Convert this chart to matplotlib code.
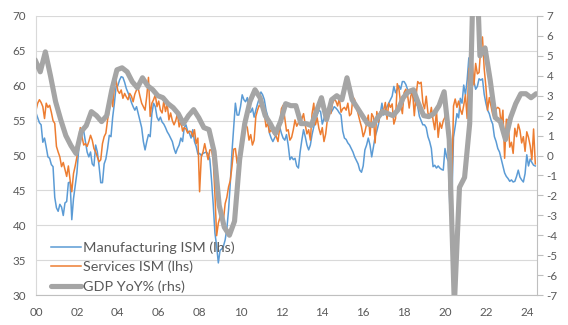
import numpy as np
import matplotlib.pyplot as plt

plt.rcParams['font.family'] = ['Lato', 'DejaVu Sans']
plt.rcParams['axes.unicode_minus'] = False

# monthly ISM readings, Jan 2000 - Jun 2024
manufacturing_ism = [
    56.1, 55.4, 54.7, 54.4, 51.9, 52.5, 51.2, 49.8, 49.6, 48.7, 48.4, 44.0,  # 2000
    42.5, 42.0, 43.0, 42.6, 41.4, 43.2, 43.4, 46.1, 46.2, 40.8, 43.8, 45.6,  # 2001
    47.5, 50.7, 53.0, 53.2, 53.5, 52.0, 50.5, 49.8, 50.5, 48.8, 48.5, 51.5,  # 2002
    50.5, 48.5, 46.1, 46.1, 48.8, 49.5, 51.0, 52.9, 52.7, 55.5, 57.5, 59.9,  # 2003
    60.0, 60.8, 61.3, 61.2, 60.5, 59.6, 59.0, 58.4, 57.6, 57.0, 56.5, 57.0,  # 2004
    56.0, 55.0, 54.0, 52.0, 50.8, 52.0, 53.0, 52.7, 56.0, 57.5, 57.0, 55.5,  # 2005
    55.0, 55.5, 54.8, 54.5, 54.0, 53.4, 53.0, 52.5, 52.0, 51.0, 50.3, 51.0,  # 2006
    51.5, 52.5, 52.0, 54.0, 54.4, 53.5, 53.2, 52.5, 53.7, 52.0, 51.3, 50.2,  # 2007
    50.3, 50.0, 50.3, 50.4, 50.5, 50.2, 49.5, 46.5, 43.0, 38.9, 37.0, 34.6,  # 2008
    36.4, 36.6, 37.0, 37.9, 39.5, 42.2, 46.0, 50.5, 54.0, 57.5, 55.8, 55.8,  # 2009
    57.0, 58.7, 58.0, 57.7, 58.3, 56.5, 56.2, 56.8, 55.5, 56.5, 57.4, 58.2,  # 2010
    59.1, 58.7, 58.0, 56.5, 55.6, 53.2, 52.5, 52.0, 52.5, 53.0, 53.5, 54.1,  # 2011
    53.2, 52.5, 52.2, 53.0, 51.5, 49.4, 49.8, 49.4, 49.6, 48.5, 48.2, 50.5,  # 2012
    52.2, 53.7, 52.7, 51.5, 50.8, 51.5, 53.0, 54.1, 55.0, 55.8, 56.5, 56.3,  # 2013
    54.5, 55.3, 56.1, 55.8, 56.0, 56.1, 56.5, 57.0, 56.8, 56.5, 56.1, 55.8,  # 2014
    53.5, 52.5, 52.3, 51.8, 51.5, 51.0, 50.5, 49.8, 49.3, 48.8, 47.9, 47.6,  # 2015
    48.5, 50.8, 51.5, 52.5, 51.5, 49.8, 51.2, 52.7, 53.5, 54.5, 56.0, 57.5,  # 2016
    55.8, 56.5, 57.0, 57.5, 58.0, 58.5, 59.9, 59.0, 59.5, 60.0, 59.5, 60.6,  # 2017
    60.6, 60.2, 59.5, 58.9, 59.0, 58.5, 58.0, 57.5, 57.0, 55.6, 55.0, 54.4,  # 2018
    54.4, 54.0, 52.7, 52.0, 51.0, 48.4, 48.6, 48.2, 48.5, 48.2, 48.0, 47.9,  # 2019
    51.0, 49.8, 49.1, 41.5, 43.1, 52.6, 54.2, 56.0, 55.4, 58.2, 57.5, 60.1,  # 2020
    58.7, 60.8, 64.0, 60.7, 61.2, 60.6, 59.5, 59.9, 61.0, 60.8, 61.0, 58.8,  # 2021
    57.5, 56.5, 56.0, 55.1, 54.5, 52.7, 52.0, 51.0, 50.5, 49.5, 48.5, 47.5,  # 2022
    47.0, 46.7, 46.3, 46.5, 46.2, 46.3, 47.0, 47.9, 46.9, 46.5, 46.2, 47.4,  # 2023
    50.1, 48.5, 49.5, 49.0, 48.6, 48.5,                                      # 2024
]

services_ism = [
    56.5, 57.5, 58.0, 57.6, 57.0, 55.3, 57.5, 56.9, 57.2, 56.2, 55.0, 54.6,  # 2000
    51.3, 50.5, 49.8, 48.4, 49.0, 48.0, 47.0, 48.5, 46.5, 44.8, 47.4, 48.5,  # 2001
    49.8, 52.0, 54.0, 52.7, 51.5, 51.7, 51.3, 52.0, 52.9, 52.2, 51.0, 50.5,  # 2002
    49.8, 49.1, 49.4, 51.7, 52.7, 53.2, 55.1, 56.5, 58.9, 57.0, 59.9, 60.8,  # 2003
    59.3, 58.9, 59.4, 58.2, 58.9, 58.4, 58.0, 58.9, 58.5, 57.7, 58.8, 59.4,  # 2004
    59.6, 58.5, 57.5, 57.0, 56.5, 58.5, 61.2, 55.6, 57.5, 58.0, 58.7, 57.0,  # 2005
    57.8, 56.5, 56.1, 57.8, 56.3, 57.4, 55.1, 56.1, 55.0, 54.4, 55.0, 56.0,  # 2006
    54.1, 55.0, 53.5, 54.0, 53.8, 53.2, 53.5, 53.4, 52.7, 53.7, 51.7, 52.5,  # 2007
    44.8, 49.8, 50.5, 51.7, 50.5, 49.4, 50.8, 50.8, 49.4, 44.4, 38.5, 40.3,  # 2008
    41.2, 41.8, 40.8, 43.1, 44.0, 45.5, 46.4, 48.4, 50.9, 51.0, 48.9, 50.1,  # 2009
    50.5, 52.5, 54.1, 54.5, 54.0, 52.2, 53.0, 51.5, 52.2, 55.6, 56.5, 57.2,  # 2010
    57.0, 57.0, 56.0, 54.1, 54.6, 53.3, 53.7, 53.3, 53.0, 52.7, 52.0, 54.0,  # 2011
    56.7, 57.2, 55.3, 53.5, 53.7, 52.2, 52.6, 53.7, 55.1, 54.2, 54.7, 55.7,  # 2012
    55.2, 56.0, 54.4, 53.1, 53.7, 52.2, 56.0, 57.5, 54.4, 55.4, 53.9, 53.0,  # 2013
    54.0, 52.0, 53.1, 55.2, 56.3, 56.0, 57.5, 58.0, 57.8, 57.1, 58.2, 56.2,  # 2014
    56.7, 56.9, 56.5, 57.5, 55.7, 56.0, 58.4, 58.0, 56.9, 56.0, 55.0, 54.1,  # 2015
    52.7, 53.4, 54.5, 55.8, 52.9, 56.0, 55.5, 51.8, 56.3, 54.8, 56.3, 56.5,  # 2016
    56.5, 57.6, 55.2, 57.5, 56.9, 57.4, 54.5, 55.3, 60.3, 59.5, 57.4, 56.0,  # 2017
    59.0, 59.5, 58.8, 56.8, 58.6, 59.1, 55.7, 58.5, 60.6, 60.3, 60.5, 57.6,  # 2018
    56.7, 58.5, 56.1, 55.5, 56.9, 55.1, 53.7, 56.4, 52.6, 54.7, 53.9, 55.0,  # 2019
    55.5, 57.3, 52.5, 41.8, 45.4, 57.1, 58.1, 56.9, 57.8, 56.6, 55.9, 57.2,  # 2020
    58.7, 55.3, 62.5, 62.0, 63.5, 60.1, 63.2, 61.7, 61.9, 65.5, 67.0, 62.5,  # 2021
    59.9, 56.5, 58.3, 57.1, 55.9, 55.3, 56.7, 56.9, 56.7, 54.4, 56.5, 49.6,  # 2022
    55.2, 55.1, 51.2, 51.9, 50.3, 53.9, 52.7, 54.5, 53.6, 51.8, 52.7, 50.6,  # 2023
    53.4, 52.6, 51.4, 49.4, 53.8, 48.8,                                      # 2024
]

# real GDP, % change on a year earlier, 1999Q4 - 2024Q2
gdp_yoy = [
    4.8,
    4.2, 5.2, 4.0, 2.7,     # 2000
    1.8, 1.0, 0.5, 0.1,     # 2001
    1.2, 1.5, 2.2, 2.0,     # 2002
    1.7, 2.0, 3.3, 4.3,     # 2003
    4.4, 4.2, 3.7, 3.4,     # 2004
    3.9, 3.5, 3.3, 3.0,     # 2005
    2.9, 2.6, 2.4, 2.1,     # 2006
    1.6, 2.0, 2.3, 1.9,     # 2007
    1.4, 1.3, 0.2, -2.5,    # 2008
    -3.6, -4.0, -3.3, -0.2, # 2009
    1.6, 2.7, 3.3, 2.9,     # 2010
    2.0, 1.6, 1.1, 1.7,     # 2011
    2.6, 2.5, 2.5, 1.6,     # 2012
    1.6, 1.5, 2.2, 2.9,     # 2013
    1.8, 2.8, 3.0, 2.8,     # 2014
    3.9, 2.8, 2.4, 2.0,     # 2015
    1.6, 1.5, 1.9, 2.2,     # 2016
    2.1, 2.0, 2.3, 2.9,     # 2017
    3.2, 3.3, 2.6, 2.0,     # 2018
    1.95, 2.1, 2.5, 3.2,    # 2019
    0.8, -7.5, -1.6, -1.1,  # 2020
    1.6, 12.2, 5.0, 5.4,    # 2021
    3.8, 1.9, 1.7, 0.8,     # 2022
    1.9, 2.6, 3.1, 3.1,     # 2023
    2.9, 3.1,               # 2024
]

# decimal dates: months at the start of the month, quarters in their last month
month_x = 2000 + np.arange(len(manufacturing_ism)) / 12
quarter_x = 1999.75 + 0.25 * np.arange(len(gdp_yoy)) + 2.5 / 12

BLUE = '#5B9BD5'
ORANGE = '#ED7D31'
GREY = '#A5A5A5'
TEXT = '#595959'
GRID = '#D9D9D9'
FS = 8.4
LEG_FS = 10.4

fig = plt.figure(figsize=(5.68, 3.25), dpi=100)
ax = fig.add_axes([36 / 568, 30 / 325, 501 / 568, 279 / 325])

l1, = ax.plot(month_x, manufacturing_ism, color=BLUE, lw=1.1, label='Manufacturing ISM (lhs)')
l2, = ax.plot(month_x, services_ism, color=ORANGE, lw=1.1, label='Services ISM (lhs)')

ax.set_xlim(2000, 2024.5)
ax.set_ylim(30, 70)
ax.set_yticks(range(30, 71, 5))
ax.set_xticks(range(2000, 2025, 2))
ax.set_xticklabels([f'{y % 100:02d}' for y in range(2000, 2025, 2)])
ax.grid(axis='y', color=GRID, lw=0.8)
ax.set_axisbelow(True)
ax.tick_params(axis='y', length=0, pad=7, colors=TEXT, labelsize=FS)
ax.tick_params(axis='x', length=0, pad=9, colors=TEXT, labelsize=FS)
for side in ['top', 'right']:
    ax.spines[side].set_visible(False)
ax.spines['left'].set_color(GRID)
ax.spines['bottom'].set_color('#BFBFBF')
ax.spines['left'].set_linewidth(0.8)
ax.spines['bottom'].set_linewidth(0.8)

ax2 = ax.twinx()
l3, = ax2.plot(quarter_x, gdp_yoy, color=GREY, lw=3.7, solid_joinstyle='round',
               solid_capstyle='round', label='GDP YoY% (rhs)')
ax2.set_ylim(-7, 7)
ax2.set_yticks(range(-7, 8))
ax2.tick_params(axis='y', direction='out', length=4, width=0.8, color='#BFBFBF',
                pad=3, labelcolor=TEXT, labelsize=FS)
for side in ['top', 'left', 'bottom']:
    ax2.spines[side].set_visible(False)
ax2.spines['right'].set_color('#BFBFBF')
ax2.spines['right'].set_linewidth(0.8)

leg = ax2.legend(handles=[l1, l2, l3], loc='lower left', bbox_to_anchor=(0.03, 0.008),
                 frameon=False, fontsize=LEG_FS, handlelength=2.05, handletextpad=0.15,
                 labelspacing=0.47, borderpad=0, borderaxespad=0)
for t in leg.get_texts():
    t.set_color(TEXT)

fig.savefig('out.png', dpi=100)
